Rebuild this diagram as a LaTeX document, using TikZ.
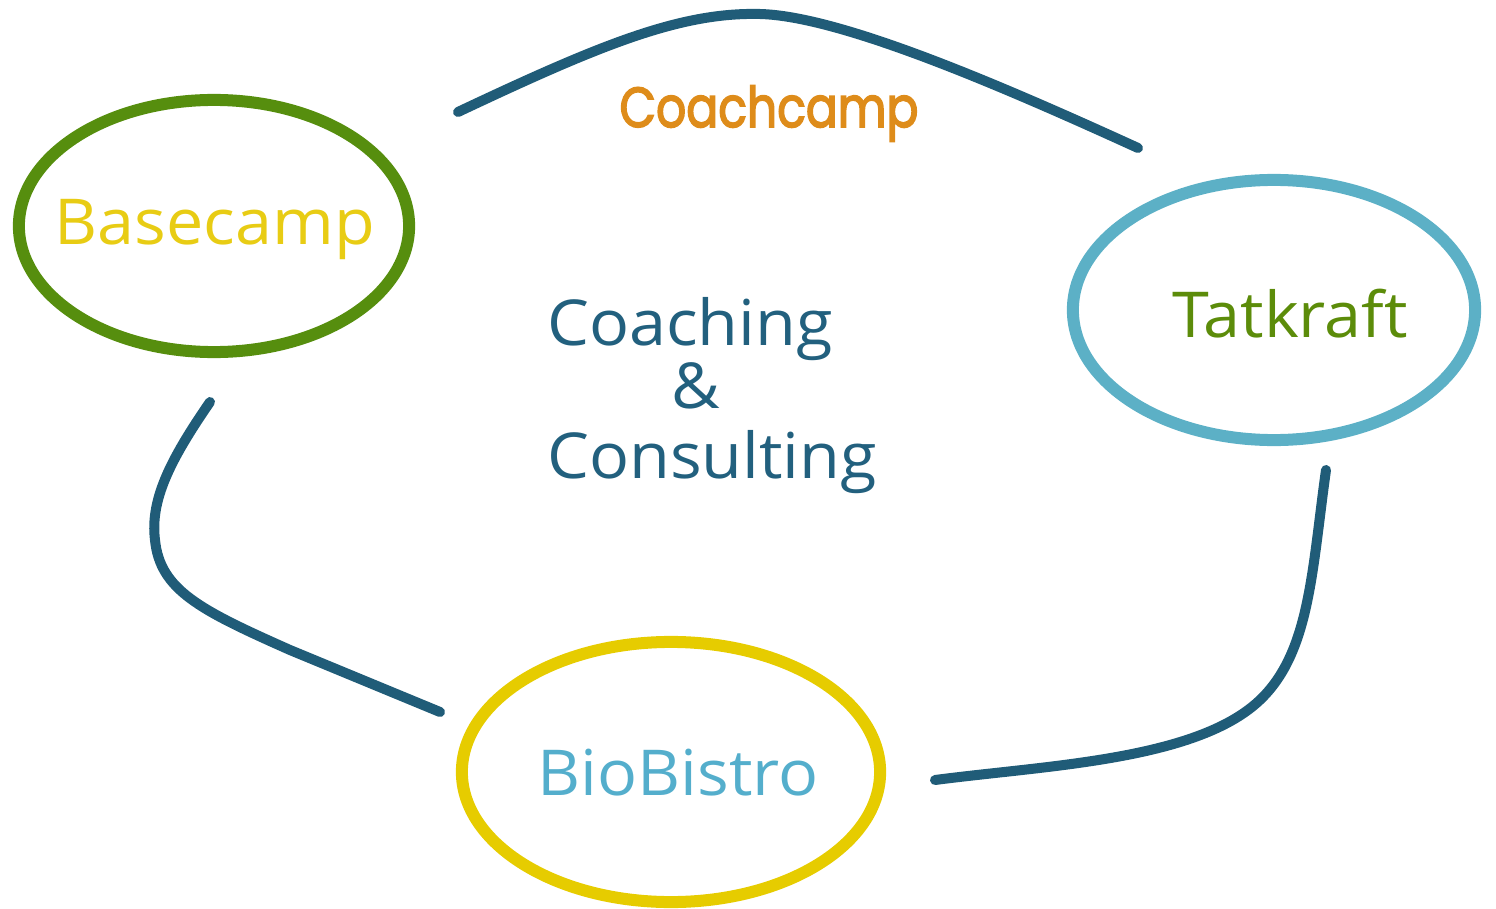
\documentclass[tikz,border=0pt]{standalone}
\usepackage{fontspec}
\setmainfont{Open Sans}
\newfontfamily\poppins{Poppins}[FakeBold=3]
\usetikzlibrary{shapes.geometric}
\definecolor{cgreen}{RGB}{86,142,14}
\definecolor{cblue}{RGB}{92,176,198}
\definecolor{cyellow}{RGB}{230,204,0}
\definecolor{cteal}{RGB}{32,92,120}
\definecolor{corange}{RGB}{222,140,26}
\definecolor{tyellow}{RGB}{232,204,20}
\definecolor{tgreen}{RGB}{92,140,10}
\definecolor{tblue}{RGB}{84,174,204}
\definecolor{tteal}{RGB}{34,96,126}
\tikzset{
  ring/.style={ellipse, draw, line width=0.12cm, inner sep=0pt},
  lbl/.style={font=\fontsize{18}{20}\selectfont, inner sep=0pt, anchor=base, xscale=1.05},
  conn/.style={draw=cteal, line width=0.1cm, line cap=round},
}
\begin{document}
\begin{tikzpicture}[x=0.01cm,y=-0.01cm]
\useasboundingbox (0,0) rectangle (1496,909);
\node[ring, draw=cgreen, minimum width=3.90cm, minimum height=2.52cm] (base) at (214,226) {};
\node[ring, draw=cblue, minimum width=4.02cm, minimum height=2.60cm] (tat) at (1274,310) {};
\node[ring, draw=cyellow, minimum width=4.18cm, minimum height=2.60cm] (bio) at (671,772) {};
\node[lbl, text=tyellow] (basel) at (215,245) {Basecamp};
\node[lbl, text=tgreen] (tatl) at (1290,337) {Tatkraft};
\node[lbl, text=tblue] (biol) at (678,795) {BioBistro};
\node[lbl, text=tteal] (c1) at (690,345) {Coaching};
\node[lbl, text=tteal] (c2) at (696,408) {\&};
\node[lbl, text=tteal] (c3) at (712,478) {Consulting};
\node[font=\poppins\fontsize{16}{18}\selectfont, text=corange, inner sep=0pt, anchor=base, xscale=0.84] (coach) at (769,127) {Coachcamp};
\coordinate (t1) at (458,112);
\coordinate (t2) at (760,14);
\coordinate (t3) at (1138,148);
\coordinate (l1) at (210,402);
\coordinate (l2) at (155,540);
\coordinate (l3) at (290,650);
\coordinate (l4) at (440,712);
\coordinate (r1) at (1326,470);
\coordinate (r2) at (1262,698);
\coordinate (r3) at (935,780);
\draw[conn] (t1) .. controls (600,45) and (680,12) .. (t2) .. controls (840,16) and (1000,85) .. (t3);
\draw[conn] (l1) .. controls (170,460) and (150,500) .. (l2) .. controls (160,590) and (200,610) .. (l3) -- (l4);
\draw[conn] (r1) .. controls (1312,570) and (1310,650) .. (r2) .. controls (1200,760) and (1050,765) .. (r3);
\end{tikzpicture}
\end{document}
